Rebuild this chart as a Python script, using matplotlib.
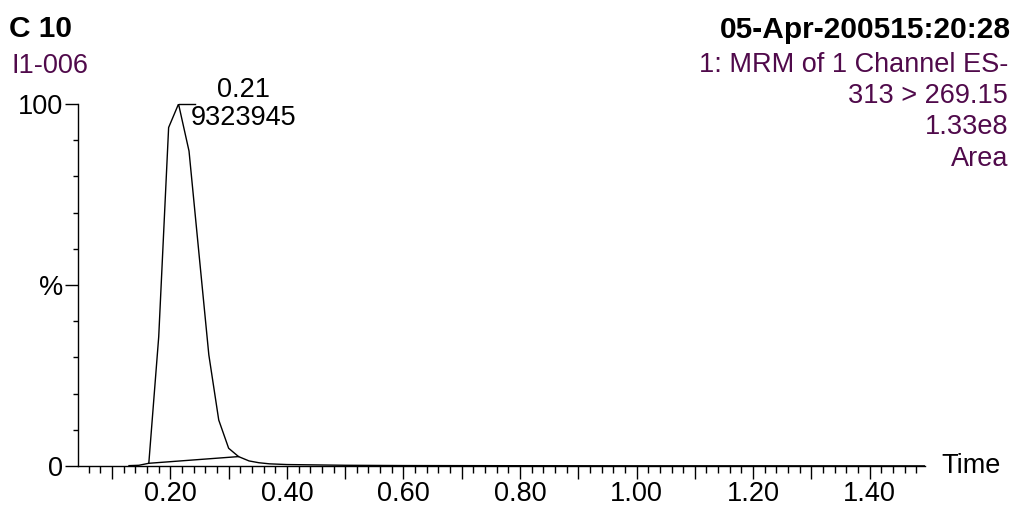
import matplotlib
matplotlib.use("Agg")
import matplotlib.pyplot as plt
from matplotlib.ticker import MultipleLocator, FuncFormatter

plt.rcParams['font.family'] = ['Liberation Sans', 'DejaVu Sans']

# chromatogram trace (time in min, intensity in %)
times = [0.129, 0.146, 0.163, 0.180, 0.197, 0.214, 0.232, 0.249, 0.266, 0.283,
         0.300, 0.317, 0.335, 0.352, 0.370, 0.400, 0.450, 0.500, 0.600, 0.800,
         1.000, 1.200, 1.495]
intensity = [0.1, 0.2, 0.75, 35.7, 93.5, 100.0, 87.0, 58.8, 30.7, 12.7,
             4.9, 2.6, 1.4, 0.9, 0.6, 0.4, 0.3, 0.2, 0.12, 0.08,
             0.05, 0.05, 0.03]

# integration baseline
base_t = [0.163, 0.317]
base_y = [0.75, 2.6]

peak_time_label = "0.21"
peak_area_label = "9323945"

purple = '#500a4b'

fig = plt.figure(figsize=(10.16, 5.08), dpi=100)
W, H = 1016, 508
ax = fig.add_axes([78.3 / W, 1 - 466 / H, (925 - 78.3) / W, (466 - 104) / H])

ax.plot(times, intensity, color='black', lw=1.0)
ax.plot(base_t, base_y, color='black', lw=1.0)

# peak label
pk = intensity.index(max(intensity))
pt, pv = times[pk], intensity[pk]
ax.plot([pt, pt + 0.029], [pv, pv], color='black', lw=1.0, clip_on=False)
ax.annotate(peak_time_label, xy=(pt, pv), xytext=(47, 10), textcoords='offset points',
            ha='center', va='center', fontsize=19.5)
ax.annotate(peak_area_label, xy=(pt, pv), xytext=(47, -10), textcoords='offset points',
            ha='center', va='center', fontsize=19.5)

ax.set_xlim(0.042, 1.495)
ax.set_ylim(0, 100)
for s in ['top', 'right']:
    ax.spines[s].set_visible(False)
for s in ['left', 'bottom']:
    ax.spines[s].set_linewidth(1.0)

ax.xaxis.set_major_locator(MultipleLocator(0.1))
ax.xaxis.set_minor_locator(MultipleLocator(0.02))
ax.xaxis.set_major_formatter(FuncFormatter(
    lambda v, p: f"{v:.2f}" if round(v * 10) % 2 == 0 else ""))
ax.set_yticks([0, 50, 100])
ax.set_yticklabels(['0', '%', '100'])
ax.yaxis.set_minor_locator(MultipleLocator(10))

ax.tick_params(axis='x', which='major', length=9.1, width=1.0, labelsize=19.5, pad=1.5)
ax.tick_params(axis='x', which='minor', length=4.7, width=1.0)
ax.tick_params(axis='y', which='major', length=9.1, width=1.0, labelsize=19.5, pad=2)
ax.tick_params(axis='y', which='minor', length=3.6, width=1.0)

ax.text(1.019, 0.0, "Time", transform=ax.transAxes, ha='left', va='center', fontsize=19.5)

# header texts
fig.text(9 / W, 1 - 37 / H, "C 10", fontsize=21.5, fontweight='bold', ha='left', va='baseline')
fig.text(11 / W, 1 - 73 / H, "I1-006", fontsize=19.5, color=purple, ha='left', va='baseline')
fig.text(1011 / W, 1 - 38 / H, "05-Apr-200515:20:28", fontsize=21.5, fontweight='bold',
         ha='right', va='baseline')
right_lines = ["1: MRM of 1 Channel ES-", "313 > 269.15", "1.33e8", "Area"]
baselines = [72, 103, 134, 166]
for txt, b in zip(right_lines, baselines):
    fig.text(1008 / W, 1 - b / H, txt, fontsize=19.5, color=purple, ha='right', va='baseline')

fig.savefig("out.png", dpi=100)
